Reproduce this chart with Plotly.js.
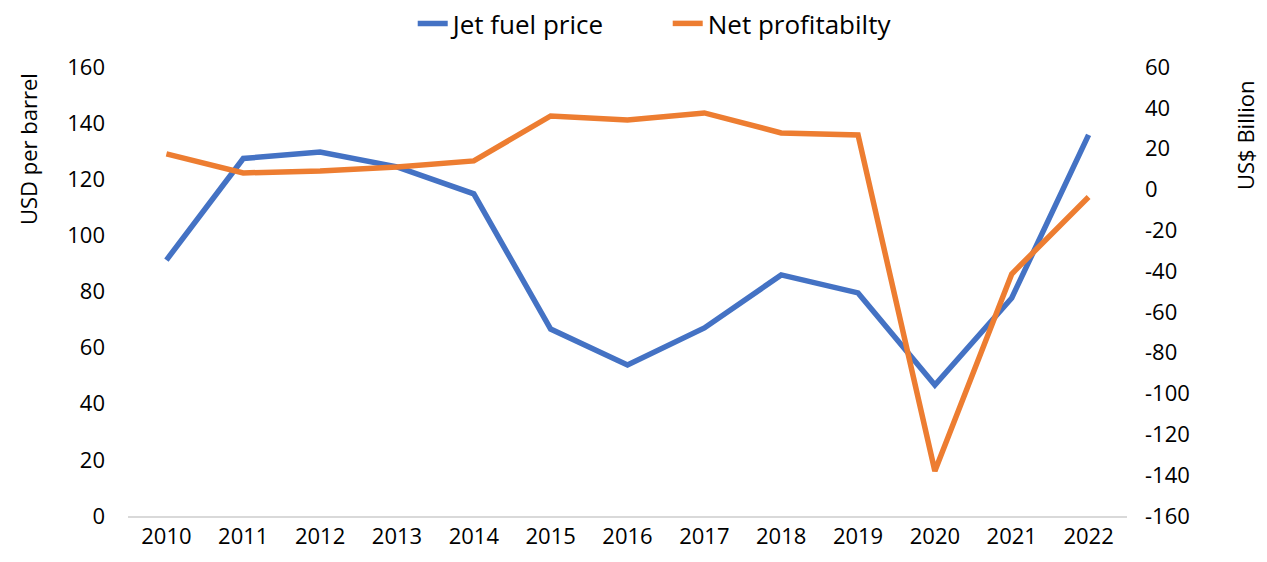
<!DOCTYPE html>
<html>
<head>
<meta charset="utf-8">
<script src="https://cdn.plot.ly/plotly-3.0.1.min.js"></script>
<style>html,body{margin:0;padding:0;background:#fff;}#chart{width:1267px;height:562px;}</style>
</head>
<body>
<div id="chart"></div>
<script>
const years = ["2010","2011","2012","2013","2014","2015","2016","2017","2018","2019","2020","2021","2022"];
const jetFuelPrice = [91.2, 127.4, 129.7, 124.4, 114.8, 66.6, 53.8, 67.0, 85.9, 79.5, 46.7, 77.7, 135.8];
const netProfitability = [17.4, 8.1, 9.0, 11.0, 14.0, 36.0, 34.0, 37.5, 27.7, 26.7, -138.0, -41.4, -3.7];
const leftTicks = [0, 20, 40, 60, 80, 100, 120, 140, 160];
const rightTicks = [-160, -140, -120, -100, -80, -60, -40, -20, 0, 20, 40, 60];
const rightTickText = ["-160", "-140", "-120", "-100", "-80", "-60", "-40", "-20", "0", "20", "40", "60"];

const FONT = "Open Sans, Noto Sans, sans-serif";
const FS = 22;

const traces = [
  {x: years, y: jetFuelPrice, name: "Jet fuel price", type: "scatter", mode: "lines",
   line: {color: "#4472C4", width: 5.5}, yaxis: "y"},
  {x: years, y: netProfitability, name: "Net profitabilty", type: "scatter", mode: "lines",
   line: {color: "#ED7D31", width: 5.5}, yaxis: "y2"}
];

const layout = {
  width: 1267, height: 562,
  margin: {l: 128, r: 140, t: 67, b: 46},
  paper_bgcolor: "#fff", plot_bgcolor: "#fff",
  font: {family: FONT, size: FS, color: "#000"},
  showlegend: true,
  legend: {orientation: "h", x: 0.285, xanchor: "left", y: 1.0, yanchor: "top", yref: "container",
           font: {family: FONT, size: 26, color: "#000"}, entrywidth: 210, entrywidthmode: "pixels",
           tracegroupgap: 0},
  xaxis: {type: "category", range: [-0.5, 12.5], showgrid: false, zeroline: false,
          showline: true, linecolor: "#d9d9d9", linewidth: 2, ticks: "", ticklen: 0,
          tickfont: {family: FONT, size: FS}, fixedrange: true},
  yaxis: {range: [0, 160], tickvals: leftTicks, showgrid: false, zeroline: false, showline: false,
          ticks: "", ticklabelstandoff: 22, tickfont: {family: FONT, size: FS}},
  yaxis2: {range: [-160, 60], tickvals: rightTicks, ticktext: rightTickText, overlaying: "y", side: "right",
           showgrid: false, zeroline: false, showline: false, ticks: "",
           ticklabelstandoff: 17, tickfont: {family: FONT, size: FS}},
  annotations: [
    {text: "USD per barrel", xref: "paper", yref: "paper", x: (28 - 128) / 999, y: (516 - 149) / 449,
     xanchor: "center", yanchor: "middle", textangle: -90, showarrow: false,
     font: {family: FONT, size: FS, color: "#000"}},
    {text: "US$ Billion", xref: "paper", yref: "paper", x: (1245 - 128) / 999, y: (516 - 135) / 449,
     xanchor: "center", yanchor: "middle", textangle: -90, showarrow: false,
     font: {family: FONT, size: FS, color: "#000"}}
  ]
};

Plotly.newPlot("chart", traces, layout, {displayModeBar: false, staticPlot: true});
</script>
</body>
</html>
